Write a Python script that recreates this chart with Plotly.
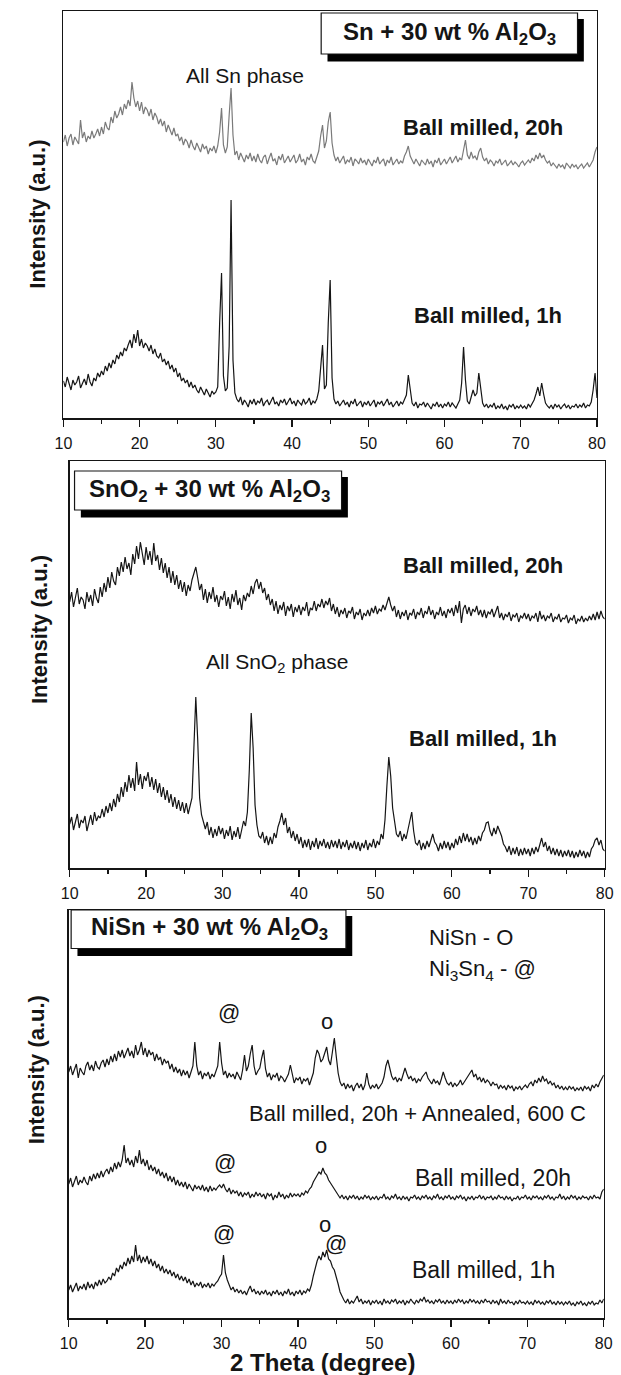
import plotly.graph_objects as go

W, H = 621, 1375
THETA_START, THETA_STEP = 10.0, 0.25
XTICKS = [10, 20, 30, 40, 50, 60, 70, 80]

# ---------------- Panel 1: Sn + 30 wt % Al2O3 ----------------
P1_20H = [
    276, 283, 272, 280, 284, 273, 281, 277, 274, 298, 280, 286, 276, 282, 279, 287, 280, 284, 289, 282,
    291, 284, 296, 290, 288, 301, 295, 307, 300, 304, 311, 303, 314, 309, 318, 312, 336, 320, 311, 317,
    307, 316, 304, 311, 308, 302, 309, 298, 305, 301, 294, 299, 292, 297, 286, 293, 288, 283, 290, 282,
    284, 277, 281, 273, 279, 276, 270, 278, 272, 268, 275, 271, 266, 274, 269, 272, 264, 270, 267, 272,
    265, 272, 286, 310, 273, 265, 271, 303, 330, 283, 263, 267, 258, 265, 261, 256, 263, 259, 265, 257,
    262, 256, 264, 258, 255, 261, 263, 254, 260, 265, 257, 259, 253, 262, 258, 264, 255, 259, 262, 256,
    260, 263, 255, 258, 264, 256, 259, 253, 261, 258, 264, 257, 255, 261, 267, 282, 293, 270, 277, 296,
    306, 275, 263, 257, 261, 255, 259, 262, 254, 258, 256, 261, 252, 259, 257, 254, 260, 255, 258, 253,
    259, 256, 252, 258, 255, 261, 254, 257, 259, 252, 258, 255, 261, 253, 256, 259, 254, 257, 255, 262,
    266, 272, 262, 257, 254, 259, 256, 252, 258, 255, 253, 259, 254, 257, 251, 258, 255, 260, 253, 256,
    259, 254, 257, 261, 255, 258, 262, 256, 260, 258, 268, 278, 263, 259, 266, 260, 262, 258, 266, 270,
    261, 257, 260, 254, 258, 256, 252, 257, 255, 259, 253, 256, 258, 252, 255, 257, 253, 256, 254, 251,
    255, 257, 253, 256, 258, 255, 260, 257, 263, 259, 265, 260, 263, 258, 255, 257, 252, 255, 253, 250,
    254, 251, 253, 249, 255, 252, 250, 254, 251, 253, 249, 252, 254, 250, 252, 255, 251, 254, 258, 266,
    271,
]
P1_1H = [
    37, 31, 41, 35, 28, 38, 33, 36, 42, 30, 35, 39, 33, 44, 36, 32, 40, 37, 45, 41,
    47, 43, 52, 47, 55, 50, 58, 54, 63, 59, 66, 62, 70, 67, 73, 78, 70, 84, 75, 88,
    72, 79, 70, 75, 72, 67, 73, 64, 69, 62, 60, 65, 56, 59, 53, 57, 49, 53, 46, 50,
    41, 45, 37, 40, 35, 38, 31, 36, 30, 33, 28, 25, 31, 27, 23, 29, 24, 21, 27, 24,
    26, 31, 95, 145, 42, 27, 30, 72, 218, 58, 25, 19, 16, 21, 13, 18, 15, 11, 18, 14,
    19, 13, 17, 15, 20, 12, 16, 18, 13, 17, 21, 14, 16, 12, 18, 15, 19, 13, 16, 20,
    14, 17, 12, 18, 15, 13, 19, 14, 16, 20, 13, 17, 15, 19, 27, 52, 73, 29, 33, 95,
    138, 40, 19, 14, 17, 12, 15, 18, 13, 16, 11, 17, 14, 19, 12, 15, 17, 11, 16, 13,
    17, 12, 15, 18, 11, 16, 14, 17, 12, 15, 19, 13, 16, 11, 14, 17, 12, 16, 14, 18,
    23, 43, 27, 15, 12, 16, 10, 14, 13, 16, 11, 15, 12, 9, 14, 12, 16, 11, 14, 10,
    14, 12, 16, 11, 15, 13, 10, 14, 18, 35, 71, 38, 17, 14, 20, 28, 22, 25, 45, 30,
    15, 11, 14, 10, 13, 11, 15, 9, 12, 10, 14, 9, 12, 8, 13, 11, 14, 9, 12, 10,
    13, 10, 12, 9, 14, 11, 15, 18, 24, 31, 22, 35, 24, 15, 12, 10, 13, 9, 14, 11,
    13, 9, 12, 14, 10, 13, 9, 12, 11, 14, 10, 13, 11, 15, 10, 13, 12, 16, 28, 45,
    20,
]

# ---------------- Panel 2: SnO2 + 30 wt % Al2O3 ----------------
P2_20H = [
    266, 276, 261, 272, 280, 264, 271, 268, 259, 276, 266, 273, 262, 279, 270, 265, 281, 271, 285, 276,
    291, 280, 296, 287, 283, 301, 292, 306, 296, 311, 299, 305, 293, 314, 304, 322, 309, 326, 312, 303,
    321, 308, 317, 303, 325, 307, 313, 298, 310, 295, 305, 290, 301, 285, 297, 283, 293, 279, 288, 276,
    286, 272, 283, 277, 288, 295, 301, 290, 278, 284, 268, 279, 265, 276, 269, 281, 266, 273, 261, 272,
    268, 277, 262, 271, 259, 274, 266, 278, 263, 270, 258, 273, 267, 275, 271, 282, 274, 285, 289, 279,
    286, 275, 280, 268, 274, 263, 269, 257, 267, 254, 263, 258, 266, 252, 262, 257, 264, 251, 261, 256,
    263, 253, 261, 257, 266, 252, 260, 258, 267, 257, 264, 261, 269, 260, 267, 263, 270, 257, 264, 254,
    261, 251, 258, 254, 260, 250, 257, 255, 261, 249, 256, 253, 259, 248, 255, 252, 258, 252, 260, 255,
    262, 254, 259, 257, 263, 258, 266, 271, 263, 257, 262, 251, 258, 249, 256, 252, 258, 248, 255, 253,
    259, 249, 256, 253, 260, 250, 257, 254, 262, 253, 258, 249, 256, 253, 261, 252, 257, 250, 259, 255,
    260, 252, 263, 255, 267, 245, 259, 263, 254, 261, 252, 259, 256, 262, 253, 258, 251, 258, 250, 256,
    254, 259, 251, 256, 262, 250, 255, 248, 254, 251, 256, 247, 253, 251, 255, 246, 252, 250, 255, 249,
    254, 247, 252, 250, 255, 246, 257, 249, 253, 247, 252, 250, 255, 246, 251, 249, 254, 246, 250, 249,
    253, 245, 250, 248, 253, 244, 249, 247, 252, 246, 250, 247, 252, 248, 254, 248, 256, 249, 257, 251,
    249,
]
P2_1H = [
    44, 51, 38, 47, 54, 40, 48, 45, 52, 37, 46, 53, 43, 56, 47, 52, 50, 59, 51, 62,
    55, 65, 57, 69, 61, 74, 66, 81, 71, 86, 76, 93, 80, 90, 77, 106, 83, 94, 79, 92,
    87, 96, 81, 91, 78, 89, 75, 85, 71, 81, 68, 78, 65, 74, 61, 71, 59, 68, 57, 66,
    55, 65, 54, 63, 70, 120, 171, 128, 70, 53, 47, 39, 46, 33, 41, 30, 39, 32, 42, 34,
    40, 29, 38, 32, 42, 28, 37, 31, 41, 29, 38, 47, 42, 56, 98, 155, 120, 63, 43, 32,
    30, 36, 25, 32, 23, 31, 24, 35, 30, 41, 47, 55, 43, 50, 35, 41, 30, 37, 27, 34,
    24, 31, 20, 28, 21, 29, 18, 27, 21, 30, 19, 27, 22, 29, 20, 26, 19, 28, 21, 27,
    20, 29, 19, 26, 21, 28, 18, 25, 20, 27, 19, 26, 17, 25, 20, 28, 18, 25, 21, 29,
    20, 27, 23, 34, 29, 48, 82, 111, 92, 60, 47, 34, 31, 37, 27, 34, 29, 39, 49, 56,
    37, 25, 23, 28, 18, 25, 19, 27, 21, 29, 34, 26, 23, 17, 25, 19, 27, 20, 26, 18,
    25, 20, 29, 23, 32, 25, 35, 27, 34, 26, 31, 23, 30, 24, 32, 27, 35, 38, 45, 46,
    37, 32, 40, 34, 42, 37, 32, 24, 21, 16, 22, 13, 20, 14, 21, 12, 19, 13, 20, 14,
    19, 12, 20, 14, 21, 16, 24, 30, 21, 26, 17, 22, 14, 20, 13, 19, 12, 18, 11, 17,
    12, 18, 11, 17, 10, 16, 11, 18, 12, 17, 10, 16, 11, 19, 22, 28, 30, 23, 28, 19,
    17,
]

# ---------------- Panel 3: NiSn + 30 wt % Al2O3 ----------------
P3_ANNEALED = [
    246, 252, 243, 249, 254, 240, 250, 246, 243, 252, 256, 248, 253, 247, 257, 251, 249, 255, 258, 251,
    259, 253, 262, 256, 264, 257, 267, 261, 268, 260, 265, 270, 262, 267, 260, 273, 263, 268, 276, 263,
    270, 261, 268, 263, 266, 257, 264, 258, 261, 253, 259, 255, 257, 249, 254, 246, 251, 245, 249, 242,
    248, 243, 247, 240, 246, 252, 276, 252, 243, 247, 239, 245, 242, 246, 239, 244, 241, 247, 252, 276,
    255, 243, 247, 240, 245, 241, 244, 239, 246, 242, 238, 248, 263, 247, 252, 264, 273, 252, 243, 247,
    250, 260, 268, 249, 241, 245, 238, 243, 241, 245, 237, 242, 240, 236, 241, 244, 253, 242, 235, 240,
    238, 241, 234, 239, 237, 240, 233, 239, 245, 260, 268, 264, 256, 259, 265, 271, 258, 253, 266, 280,
    262, 245, 236, 232, 235, 229, 234, 230, 233, 227, 232, 235, 230, 234, 228, 233, 245, 234, 229, 233,
    230, 234, 229, 232, 235, 241, 252, 258, 249, 242, 238, 241, 236, 240, 237, 243, 250, 244, 239, 242,
    237, 240, 235, 239, 237, 241, 243, 246, 240, 237, 234, 239, 235, 237, 233, 239, 246, 240, 235, 233,
    236, 231, 235, 232, 234, 238, 233, 236, 239, 242, 245, 248, 241, 244, 238, 241, 236, 240, 235, 238,
    236, 232, 236, 233, 234, 229, 233, 230, 232, 228, 233, 230, 232, 227, 231, 229, 232, 228, 231, 233,
    230, 234, 236, 232, 238, 235, 240, 236, 242, 237, 239, 234, 237, 233, 235, 230, 233, 229, 232, 228,
    231, 228, 232, 229, 231, 227, 230, 228, 231, 227, 232, 229, 231, 227, 233, 230, 234, 231, 236, 239,
    243,
]
P3_20H = [
    134, 140, 131, 137, 142, 133, 138, 135, 141, 136, 133, 142, 137, 144, 139, 145, 140, 147, 141, 146,
    149, 144, 151, 146, 155, 149, 156, 151, 158, 173, 155, 160, 153, 158, 151, 162, 155, 168, 154, 159,
    152, 158, 148, 153, 147, 151, 144, 149, 142, 146, 140, 145, 137, 142, 136, 141, 133, 138, 132, 136,
    131, 136, 129, 134, 130, 127, 133, 129, 132, 128, 133, 127, 131, 126, 132, 127, 130, 128, 131, 133,
    130, 134, 129, 126, 130, 124, 128, 125, 127, 122, 126, 121, 125, 123, 126, 120, 124, 121, 126, 122,
    125, 121, 124, 119, 125, 122, 124, 118, 123, 120, 126, 121, 124, 119, 123, 120, 125, 121, 124, 122,
    124, 121, 125, 123, 127, 125, 129, 131, 136, 139, 143, 146, 144, 150, 145, 143, 138, 135, 131, 128,
    126, 123, 120, 123, 119, 122, 118, 122, 120, 123, 119, 122, 118, 121, 119, 123, 120, 122, 118, 121,
    119, 122, 118, 121, 120, 124, 119, 121, 118, 122, 120, 124, 119, 121, 118, 122, 119, 121, 117, 121,
    120, 123, 119, 121, 118, 122, 120, 123, 119, 121, 118, 122, 120, 124, 119, 121, 118, 122, 120, 123,
    119, 121, 118, 122, 120, 123, 119, 121, 117, 121, 119, 122, 118, 121, 120, 123, 119, 122, 118, 121,
    120, 122, 118, 121, 119, 123, 120, 121, 118, 122, 119, 121, 117, 120, 119, 122, 118, 121, 120, 123,
    119, 121, 118, 122, 120, 122, 119, 121, 118, 122, 120, 123, 119, 121, 118, 121, 120, 124, 119, 122,
    118, 121, 119, 123, 120, 122, 118, 121, 119, 122, 120, 121, 118, 122, 119, 123, 120, 121, 119, 126,
    129,
]
P3_1H = [
    28, 33, 26, 31, 35, 27, 32, 29, 34, 28, 36, 30, 34, 29, 36, 32, 38, 33, 39, 35,
    37, 41, 38, 45, 42, 50, 46, 53, 49, 56, 52, 60, 54, 62, 56, 73, 57, 63, 55, 61,
    56, 62, 54, 59, 52, 57, 50, 54, 47, 52, 45, 49, 44, 48, 42, 46, 40, 44, 38, 42,
    37, 41, 35, 39, 33, 37, 31, 35, 32, 36, 30, 34, 31, 35, 30, 34, 32, 35, 37, 41,
    44, 63, 45, 38, 32, 28, 31, 26, 29, 25, 28, 24, 27, 23, 28, 32, 26, 29, 24, 27,
    23, 27, 24, 28, 23, 26, 22, 27, 24, 28, 23, 26, 22, 27, 24, 29, 23, 26, 22, 27,
    24, 28, 23, 27, 25, 29, 27, 33, 42, 50, 57, 62, 58, 66, 61, 68, 59, 57, 51, 48,
    42, 34, 26, 21, 18, 15, 19, 14, 17, 15, 18, 22, 16, 19, 14, 17, 15, 18, 13, 17,
    15, 18, 14, 17, 13, 19, 15, 17, 14, 18, 16, 19, 14, 17, 15, 18, 13, 17, 15, 19,
    16, 14, 18, 15, 19, 17, 21, 16, 18, 15, 17, 14, 18, 16, 19, 15, 17, 14, 18, 15,
    17, 14, 18, 15, 19, 16, 18, 14, 17, 15, 19, 16, 18, 15, 17, 14, 18, 15, 19, 16,
    17, 14, 18, 15, 17, 13, 19, 15, 17, 14, 18, 15, 16, 13, 17, 14, 18, 15, 16, 14,
    17, 14, 16, 13, 18, 15, 17, 14, 16, 13, 17, 15, 18, 14, 16, 13, 17, 14, 16, 13,
    16, 14, 17, 13, 15, 12, 16, 14, 17, 13, 15, 12, 16, 14, 17, 13, 15, 14, 18, 15,
    19,
]

SERIES = [
    # (panel index, values, colour)
    (0, P1_20H, "#7a7a7a"),
    (0, P1_1H, "#151515"),
    (1, P2_20H, "#151515"),
    (1, P2_1H, "#151515"),
    (2, P3_ANNEALED, "#151515"),
    (2, P3_20H, "#151515"),
    (2, P3_1H, "#151515"),
]
for _, vals, _c in SERIES:
    assert len(vals) == 281, len(vals)

# panel frames in pixels: left (2θ=10), right (2θ=80), top, bottom
PANELS = [
    dict(l=56.0, r=605.5, t=11.0, b=418.0),
    dict(l=62.5, r=613.5, t=461.0, b=868.0),
    dict(l=61.5, r=612.5, t=910.0, b=1318.0),
]

FONT = "Liberation Sans, Arial, Helvetica, sans-serif"
INK = "#151515"


def fx(px):
    return px / W


def fy(py):
    return 1 - py / H


fig = go.Figure()
for k, vals, col in SERIES:
    sfx = "" if k == 0 else str(k + 1)
    fig.add_trace(go.Scatter(
        x0=THETA_START, dx=THETA_STEP, y=vals, mode="lines",
        line=dict(color=col, width=1.2), xaxis="x" + sfx, yaxis="y" + sfx,
        showlegend=False, hoverinfo="skip",
    ))

layout = dict(
    width=W, height=H, autosize=False,
    margin=dict(l=0, r=0, t=0, b=0),
    paper_bgcolor="white", plot_bgcolor="white",
    font=dict(family=FONT, color=INK),
    showlegend=False,
)
for k, p in enumerate(PANELS):
    sfx = "" if k == 0 else str(k + 1)
    layout["xaxis" + sfx] = dict(
        domain=[fx(p["l"]), fx(p["r"])], range=[10, 80], anchor="y" + sfx,
        tickvals=XTICKS, ticktext=[str(v) for v in XTICKS],
        ticks="outside", ticklen=7, tickwidth=1.3, tickcolor=INK,
        minor=dict(dtick=5, tick0=10, ticks="outside", ticklen=4, tickwidth=1.2, tickcolor=INK),
        showline=True, linecolor=INK, linewidth=1.5, mirror=True,
        showgrid=False, zeroline=False, ticklabelstandoff=3,
        tickfont=dict(family=FONT, size=16, color=INK),
    )
    layout["yaxis" + sfx] = dict(
        domain=[fy(p["b"]), fy(p["t"])], range=[0, p["b"] - p["t"]], anchor="x" + sfx,
        showticklabels=False, ticks="", showline=True, linecolor=INK, linewidth=1.5,
        mirror=True, showgrid=False, zeroline=False,
    )
fig.update_layout(**layout)

# title boxes with drop shadow (pixels: left, top, right, bottom)
BOXES = [
    dict(l=321.5, t=13, r=585.5, b=54, text="<b>Sn + 30 wt % Al<sub>2</sub>O<sub>3</sub></b>", cx=454, cy=34),
    dict(l=67.5, t=471, r=342.5, b=510, text="<b>SnO<sub>2</sub> + 30 wt % Al<sub>2</sub>O<sub>3</sub></b>", cx=206, cy=490),
    dict(l=64, t=910, r=347, b=948.5, text="<b>NiSn + 30 wt % Al<sub>2</sub>O<sub>3</sub></b>", cx=206, cy=929),
]
shapes = []
annotations = []
for bx in BOXES:
    shapes.append(dict(type="rect", xref="paper", yref="paper", layer="above",
                       x0=fx(bx["l"] + 6.5), x1=fx(bx["r"] + 6.5), y0=fy(bx["b"] + 7.5), y1=fy(bx["t"] + 6),
                       fillcolor="black", line=dict(width=0)))
    shapes.append(dict(type="rect", xref="paper", yref="paper", layer="above",
                       x0=fx(bx["l"]), x1=fx(bx["r"]), y0=fy(bx["b"]), y1=fy(bx["t"]),
                       fillcolor="white", line=dict(color=INK, width=1.2)))
    annotations.append(dict(text=bx["text"], x=fx(bx["cx"]), y=fy(bx["cy"]), xref="paper", yref="paper",
                            xanchor="center", yanchor="middle", showarrow=False,
                            font=dict(family=FONT, size=24, color=INK)))

# (text, x px, y px, size, anchor, angle)
LABELS = [
    ("All Sn phase", 243.5, 76, 21, "center", 0),
    ("<b>Ball milled, 20h</b>", 488.5, 127, 22, "center", 0),
    ("<b>Ball milled, 1h</b>", 493.5, 315, 22, "center", 0),
    ("<b>Intensity (a.u.)</b>", 29.5, 214, 22, "center", -90),
    ("<b>Ball milled, 20h</b>", 488.5, 566, 22, "center", 0),
    ("All SnO<sub>2</sub> phase", 276.5, 663, 21, "center", 0),
    ("<b>Ball milled, 1h</b>", 488, 739, 22, "center", 0),
    ("<b>Intensity (a.u.)</b>", 31, 630, 22, "center", -90),
    ("NiSn - O", 430, 937, 22, "left", 0),
    ("Ni<sub>3</sub>Sn<sub>4</sub> - @", 430, 970, 22, "left", 0),
    ("Ball milled, 20h + Annealed, 600 C", 421, 1113, 22, "center", 0),
    ("Ball milled, 20h", 498, 1178, 23, "center", 0),
    ("Ball milled, 1h", 489, 1270, 23, "center", 0),
    ("@", 226.5, 1012, 22, "center", 0),
    ("o", 327, 1021, 22, "center", 0),
    ("@", 222.5, 1162, 22, "center", 0),
    ("o", 321.5, 1145, 22, "center", 0),
    ("@", 221.5, 1233, 22, "center", 0),
    ("o", 325, 1224, 22, "center", 0),
    ("@", 337, 1243, 22, "center", 0),
    ("<b>Intensity (a.u.)</b>", 28, 1070, 22, "center", -90),
    ("<b>2 Theta (degree)</b>", 323, 1362, 24, "center", 0),
]
for text, x, y, size, anchor, ang in LABELS:
    annotations.append(dict(text=text, x=fx(x), y=fy(y), xref="paper", yref="paper",
                            xanchor=anchor, yanchor="middle", showarrow=False, textangle=ang,
                            font=dict(family=FONT, size=size, color=INK)))

fig.update_layout(shapes=shapes, annotations=annotations)
fig.write_html("out.html", config={"displayModeBar": False, "staticPlot": True},
               post_script="document.body.style.margin='0';")
